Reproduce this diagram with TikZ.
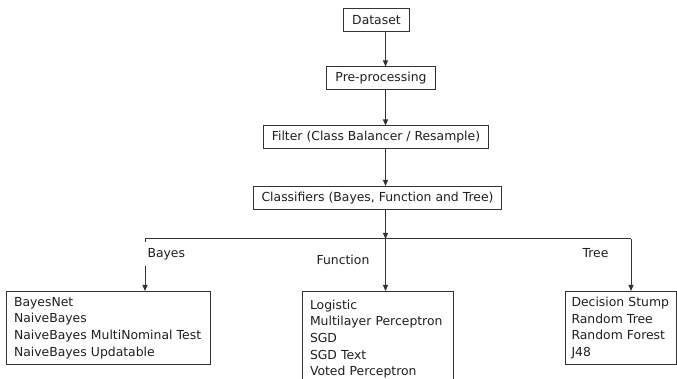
\documentclass[tikz,border=0pt]{standalone}
\usepackage{fontspec}
\setmainfont{DejaVu Sans}
\usetikzlibrary{positioning, arrows.meta}

\begin{document}
\begin{tikzpicture}[
    % GLOBAL CFG
    x=1pt, y=-1pt,
    font=\fontsize{12.4}{16.7}\selectfont,
    text=black!88,
    line width=1pt,
    >={Triangle[length=6pt,width=5pt]},
    % Styles
    stage/.style={% For the pipeline boxes
        rectangle,
        draw=black!80,
        inner xsep=8.5pt,
        minimum height=23pt,
        },
    group/.style={% For the lists of classifiers
        rectangle,
        draw=black!80,
        anchor=north west,
        align=left,
        inner xsep=7.5pt,
        },
    branch/.style={% For the branch names
        inner sep=2pt,
        },
    link/.style={% Connectors
        draw=black!80,
        },
    ]

    \clip (0,0) rectangle (677,379);

    % Pipeline
    \node [stage] (dataset) at (376.5,20.5) {Dataset};
    \node [stage] (prep) at (381,78.5) {Pre-processing};
    \node [stage] (filter) at (376,137.5) {Filter (Class Balancer / Resample)};
    \node [stage] (classif) at (377.5,198) {Classifiers (Bayes, Function and Tree)};

    % Split points
    \coordinate (split) at (385.5,239);
    \coordinate (bayescorner) at (145,239);
    \coordinate (treecorner) at (631,239);

    % Classifier groups
    \node [group, text width=189pt, minimum height=73pt] (bayes) at (6,291)
        {BayesNet\\NaiveBayes\\NaiveBayes MultiNominal Test\\NaiveBayes Updatable};
    \node [group, text width=136pt, minimum height=95pt] (function) at (302,291)
        {Logistic\\Multilayer Perceptron\\SGD\\SGD Text\\Voted Perceptron};
    \node [group, text width=99pt, inner xsep=6pt, minimum height=73pt] (tree) at (565,291)
        {Decision Stump\\Random Tree\\Random Forest\\J48};

    % Connecting all
    \draw [->, link] (dataset.south -| split) -- (prep.north -| split);
    \draw [->, link] (prep.south -| split) -- (filter.north -| split);
    \draw [->, link] (filter.south -| split) -- (classif.north -| split);
    \draw [->, link] (classif.south -| split) -- (split);
    \draw [link] (bayescorner) -- (treecorner);
    \draw [->, link] (bayescorner) -- (bayescorner |- bayes.north);
    \draw [->, link] (split) -- (split |- function.north);
    \draw [->, link] (treecorner) -- (treecorner |- tree.north);

    % Branch names
    \node [branch, anchor=west, fill=white, inner xsep=3pt, inner ysep=6pt] (lbayes) at (144,254) {Bayes};
    \node [branch] (lfunction) at (343,260) {Function};
    \node [branch] (ltree) at (595.5,253) {Tree};

\end{tikzpicture}
\end{document}
